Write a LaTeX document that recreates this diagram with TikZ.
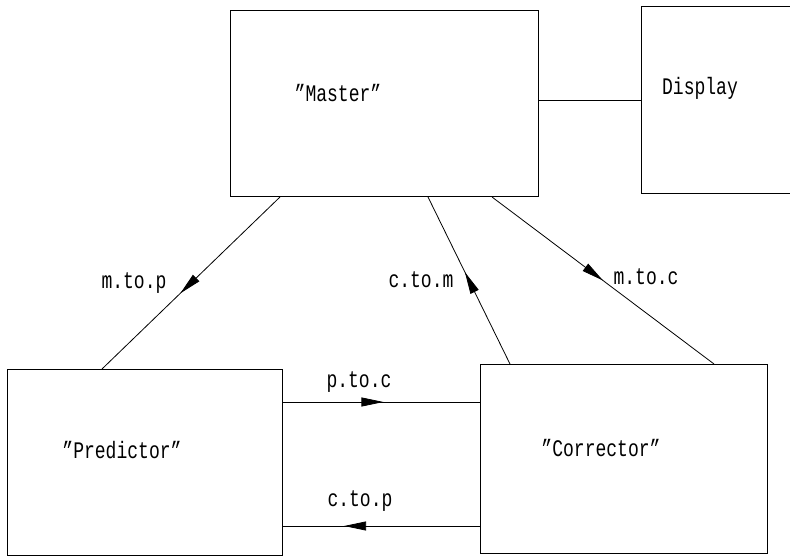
\documentclass[tikz,border=0pt]{standalone}
\usepackage{graphicx}
\usepackage{fontspec}
\setmainfont[Ligatures=NoCommon]{Liberation Mono}
\usetikzlibrary{arrows.meta,decorations.markings}
\newcommand\talltext[1]{\scalebox{0.95}[1.25]{#1}}
\newcommand\qq{\symbol{34}}
\tikzset{
  box/.style={draw, line width=1pt, rectangle, inner sep=0pt, anchor=north west},
  lbl/.style={font=\fontsize{19}{20}\selectfont, inner sep=0pt},
  conn/.style={line width=0.8pt},
  midarrow/.style={postaction={decorate}, decoration={markings,
      mark=at position #1 with {\arrow{Triangle[length=22pt,width=9pt]}}}}
}
\begin{document}
\begin{tikzpicture}[x=1pt,y=-1pt]
\useasboundingbox (0,0) rectangle (790,556);
\clip (0,0) rectangle (790,556);
% boxes
\node[box, minimum width=308pt, minimum height=186pt] (master) at (230,10) {};
\node[box, minimum width=160pt, minimum height=187pt] (display) at (641,6) {};
\node[box, minimum width=275pt, minimum height=186pt] (predictor) at (7,369) {};
\node[box, minimum width=287pt, minimum height=189pt] (corrector) at (480,364) {};
% texts
\node[lbl] (tmaster) at (338,93) {\talltext{\qq Master\qq}};
\node[lbl] (tdisplay) at (700,88) {\talltext{Display}};
\node[lbl] (tpred) at (122,450) {\talltext{\qq Predictor\qq}};
\node[lbl] (tcorr) at (601,448) {\talltext{\qq Corrector\qq}};
% connectors
\draw[conn] ([yshift=-90pt]master.north east) -- ([yshift=-94pt]display.north west);
\draw[conn, midarrow=0.56] ([xshift=50pt]master.south west) -- ([xshift=95pt]predictor.north west);
\draw[conn, midarrow=0.55] ([xshift=30pt]corrector.north west) -- ([xshift=198pt]master.south west);
\draw[conn, midarrow=0.50] ([xshift=262pt]master.south west) -- ([xshift=234pt]corrector.north west);
\draw[conn, midarrow=0.51] ([yshift=-33pt]predictor.north east) -- ([yshift=-38pt]corrector.north west);
\draw[conn, midarrow=0.69] ([yshift=-162pt]corrector.north west) -- ([yshift=-157pt]predictor.north east);
% connector labels
\node[lbl] (lmp) at (134,283) {\talltext{m.to.p}};
\node[lbl] (lcm) at (421,280) {\talltext{c.to.m}};
\node[lbl] (lmc) at (646,277) {\talltext{m.to.c}};
\node[lbl] (lpc) at (359,382) {\talltext{p.to.c}};
\node[lbl] (lcp) at (360,501) {\talltext{c.to.p}};
\end{tikzpicture}
\end{document}
